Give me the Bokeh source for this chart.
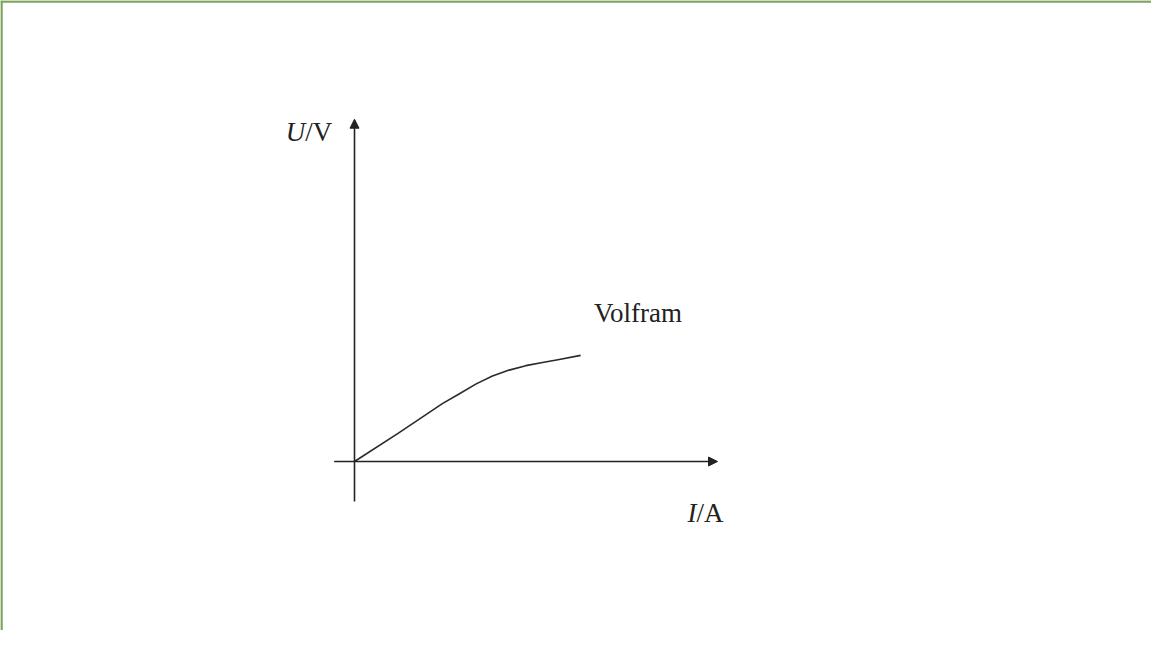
from bokeh.plotting import figure
from bokeh.models import Range1d, Arrow, NormalHead, Span, ColumnDataSource
from bokeh.core.properties import value
from bokeh.embed import file_html
from bokeh.resources import INLINE

# ---- data (arbitrary units: I in A, U in V) ----
current_I = [0.0, 1.21, 2.42, 2.88, 3.34, 3.80, 4.26, 4.72, 5.18, 5.64, 6.23]
voltage_U = [0.0, 0.83, 1.69, 1.97, 2.26, 2.50, 2.67, 2.80, 2.89, 2.98, 3.10]
curve_label = ["Volfram"]
x_axis_label = ["I", "/A"]
y_axis_label = ["U", "/V"]

# ---- axis extents (data units) ----
I_AXIS = (-0.56, 10.0)
U_AXIS = (-1.17, 10.0)

# ---- layout ----
W, H = 1151, 630
PX_PER_X = 36.3
PX_PER_Y = 34.23
ORIGIN_PX = (354, 461)  # origin in canvas pixels

x0 = -ORIGIN_PX[0] / PX_PER_X
x1 = (W - ORIGIN_PX[0]) / PX_PER_X
y1 = ORIGIN_PX[1] / PX_PER_Y
y0 = -(H - ORIGIN_PX[1]) / PX_PER_Y

p = figure(width=W, height=H, x_range=Range1d(x0, x1), y_range=Range1d(y0, y1),
           x_axis_type=None, y_axis_type=None, toolbar_location=None,
           output_backend="svg", min_border=0, outline_line_color=None,
           background_fill_color="white", border_fill_color="white")
p.grid.visible = False

# green frame (top and left only)
GREEN = "#7ea35f"
p.add_layout(Span(location=y1 - 1.0 / PX_PER_Y, dimension="width",
                  line_color=GREEN, line_width=2.5))
p.add_layout(Span(location=x0 + 1.0 / PX_PER_X, dimension="height",
                  line_color=GREEN, line_width=2.5))

AX = "#222222"
p.add_layout(Arrow(end=NormalHead(size=9, fill_color=AX, line_color=AX),
                   x_start=I_AXIS[0], y_start=0, x_end=I_AXIS[1], y_end=0,
                   line_color=AX, line_width=1.6))
p.add_layout(Arrow(end=NormalHead(size=9, fill_color=AX, line_color=AX),
                   x_start=0, y_start=U_AXIS[0], x_end=0, y_end=U_AXIS[1],
                   line_color=AX, line_width=1.6))

src = ColumnDataSource(dict(I=current_I, U=voltage_U))
p.line("I", "U", source=src, line_color="#2a2a2a", line_width=1.6,
       line_join="round")

FONT = value("Liberation Serif")
FS = "27px"
TC = "#222222"
# axis titles
p.text(x=[-1.36], y=[9.64], text=[y_axis_label[0]], text_font=FONT,
       text_font_size=FS, text_font_style="italic", text_align="right",
       text_baseline="alphabetic", text_color=TC)
p.text(x=[-1.36], y=[9.64], text=[y_axis_label[1]], text_font=FONT,
       text_font_size=FS, text_align="left", text_baseline="alphabetic",
       text_color=TC)
p.text(x=[9.42], y=[-1.49], text=[x_axis_label[0]], text_font=FONT,
       text_font_size=FS, text_font_style="italic", text_align="right",
       text_baseline="alphabetic", text_color=TC)
p.text(x=[9.42], y=[-1.49], text=[x_axis_label[1]], text_font=FONT,
       text_font_size=FS, text_align="left", text_baseline="alphabetic",
       text_color=TC)
p.text(x=[6.60], y=[4.35], text=curve_label, text_font=FONT,
       text_font_size=FS, text_align="left", text_baseline="alphabetic",
       text_color=TC)

open("out.html", "w").write(file_html(p, INLINE))
